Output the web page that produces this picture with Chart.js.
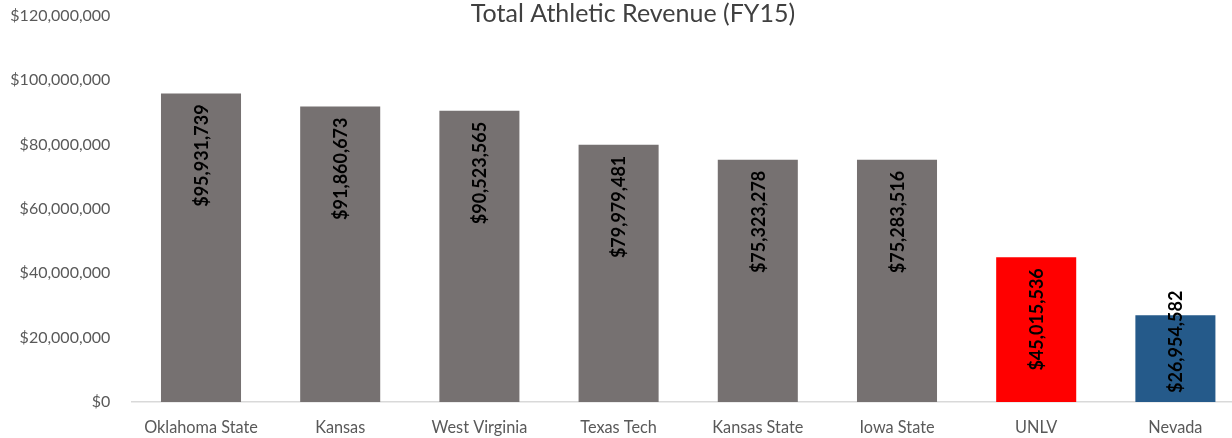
<!DOCTYPE html>
<html>
<head>
<meta charset="utf-8">
<script src="https://cdn.jsdelivr.net/npm/chart.js@4"></script>
<style>
  html, body { margin: 0; padding: 0; background: #fff; overflow: hidden; }
  #wrap { width: 1245px; height: 438px; position: relative; }
</style>
</head>
<body>
<div id="wrap"><canvas id="c"></canvas></div>
<script>
const categories = ["Oklahoma State", "Kansas", "West Virginia", "Texas Tech", "Kansas State", "Iowa State", "UNLV", "Nevada"];
const revenue = [95931739, 91860673, 90523565, 79979481, 75323278, 75283516, 45015536, 26954582];
const barColors = ["#767171", "#767171", "#767171", "#767171", "#767171", "#767171", "#FF0000", "#255A8A"];
const yTicks = [0, 20000000, 40000000, 60000000, 80000000, 100000000, 120000000];
const chartTitle = "Total Athletic Revenue (FY15)";

const money = v => "$" + Math.round(v).toLocaleString("en-US");

const labelPlugin = {
  id: "barLabels",
  afterDatasetsDraw(chart) {
    const ctx = chart.ctx;
    const meta = chart.getDatasetMeta(0);
    ctx.save();
    ctx.font = "bold 18px Lato";
    ctx.fillStyle = "#000";
    ctx.textAlign = "left";
    ctx.textBaseline = "middle";
    meta.data.forEach((bar, i) => {
      const txt = money(revenue[i]);
      const w = ctx.measureText(txt).width;
      let endY = bar.y + 11;
      if (endY + w > bar.base - 9) endY = bar.base - 9 - w;
      ctx.save();
      ctx.translate(bar.x + 1, endY + w);
      ctx.rotate(-Math.PI / 2);
      ctx.fillText(txt, 0, 0);
      ctx.restore();
    });
    ctx.restore();
  }
};

const titlePlugin = {
  id: "titleText",
  afterDraw(chart) {
    const ctx = chart.ctx;
    ctx.save();
    ctx.font = "25px Lato";
    ctx.fillStyle = "#404040";
    ctx.textAlign = "center";
    ctx.textBaseline = "middle";
    ctx.fillText(chartTitle, 633, 14);
    ctx.restore();
  }
};

new Chart(document.getElementById("c"), {
  type: "bar",
  data: {
    labels: categories,
    datasets: [{
      data: revenue,
      backgroundColor: barColors,
      borderWidth: 0,
      barPercentage: 0.575,
      categoryPercentage: 1
    }]
  },
  options: {
    responsive: true,
    maintainAspectRatio: false,
    animation: false,
    layout: { padding: { top: 16, right: 0, left: 0, bottom: 0 } },
    plugins: { legend: { display: false }, tooltip: { enabled: false }, title: { display: false } },
    scales: {
      x: {
        afterFit: s => { s.height = 36; s.paddingLeft = 0; s.paddingRight = 0; },
        grid: { display: false, drawTicks: false },
        border: { display: true, color: "#D9D9D9", width: 1.5 },
        ticks: { color: "#595959", font: { family: "Lato", size: 16.3 }, padding: 16, maxRotation: 0, autoSkip: false }
      },
      y: {
        min: 0,
        max: 120000000,
        afterBuildTicks: s => { s.ticks = yTicks.map(v => ({ value: v })); },
        afterFit: s => { s.width = 131.4; s.paddingTop = 0; s.paddingBottom = 0; },
        grid: { display: false, drawTicks: false },
        border: { display: false },
        ticks: { color: "#595959", font: { family: "Lato", size: 16 }, padding: 21, callback: v => money(v) }
      }
    }
  },
  plugins: [labelPlugin, titlePlugin]
});
</script>
</body>
</html>
